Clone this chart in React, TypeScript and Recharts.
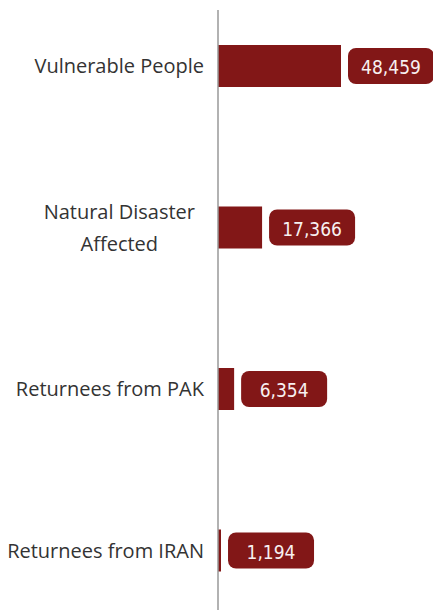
import { Bar, BarChart, LabelList, XAxis, YAxis } from "recharts";

const categories = ["Vulnerable People", "Natural Disaster Affected", "Returnees from PAK", "Returnees from IRAN"];
const values = [48459, 17366, 6354, 1194];

const data = categories.map((name, i) => ({ name, value: values[i] }));

const BAR = "#821717";
const LABEL_FONT = "'Open Sans', 'Noto Sans', sans-serif";
const BADGE_FONT = "'DejaVu Sans Condensed', 'DejaVu Sans', sans-serif";

let ctx: CanvasRenderingContext2D | null = null;
function measure(s: string, font: string) {
  if (!ctx) ctx = document.createElement("canvas").getContext("2d");
  if (!ctx) return s.length * 9;
  ctx.font = font;
  return ctx.measureText(s).width;
}

function wrap(label: string, maxW: number, font: string) {
  const words = label.split(" ");
  const lines: string[] = [];
  let cur = "";
  for (const w of words) {
    const next = cur ? cur + " " + w : w;
    if (cur && measure(next, font) > maxW) {
      lines.push(cur);
      cur = w;
    } else cur = next;
  }
  if (cur) lines.push(cur);
  return lines;
}

function CategoryTick({ x, y, payload }: any) {
  const font = `20px ${LABEL_FONT}`;
  const lines = wrap(String(payload.value), 200, font);
  const right = x - 14;
  if (lines.length === 1) {
    return (
      <text x={right} y={y} textAnchor="end" dominantBaseline="central" fontSize={20} fontFamily={LABEL_FONT} fill="#333">
        {lines[0]}
      </text>
    );
  }
  const maxW = Math.max(...lines.map((l) => measure(l, font)));
  const cx = right - 9 - maxW / 2;
  const lh = 32;
  return (
    <text textAnchor="middle" fontSize={20} fontFamily={LABEL_FONT} fill="#333">
      {lines.map((l, i) => (
        <tspan key={i} x={cx} y={y + (i - (lines.length - 1) / 2) * lh} dominantBaseline="central">
          {l}
        </tspan>
      ))}
    </text>
  );
}

function Badge({ x, y, width, height, value }: any) {
  const bx = x + width + 7;
  const bw = 86;
  const bh = 36;
  const by = y + height / 2 - bh / 2;
  return (
    <g>
      <rect x={bx} y={by} width={bw} height={bh} rx={8} fill={BAR} />
      <text x={bx + bw / 2} y={by + bh / 2 + 1} textAnchor="middle" dominantBaseline="central" fill="#f7f0f0" fontSize={19} fontFamily={BADGE_FONT}>
        {Number(value).toLocaleString("en-US")}
      </text>
    </g>
  );
}

export default function App() {
  return (
    <div style={{ width: 433, height: 610 }}>
      <style>{"body { margin: 0; }"}</style>
      <BarChart width={433} height={610} data={data} layout="vertical" margin={{ top: 10, right: 92, left: 8, bottom: 0 }}>
        <XAxis type="number" domain={[0, 48459]} hide />
        <YAxis
          type="category"
          dataKey="name"
          width={210}
          tickLine={false}
          tickSize={0}
          tickMargin={0}
          axisLine={{ stroke: "#999", strokeWidth: 1.5 }}
          tick={<CategoryTick />}
          padding={{ top: -25, bottom: -21 }}
          interval={0}
        />
        <Bar dataKey="value" fill={BAR} barSize={42} isAnimationActive={false}>
          <LabelList dataKey="value" content={<Badge />} />
        </Bar>
      </BarChart>
    </div>
  );
}
